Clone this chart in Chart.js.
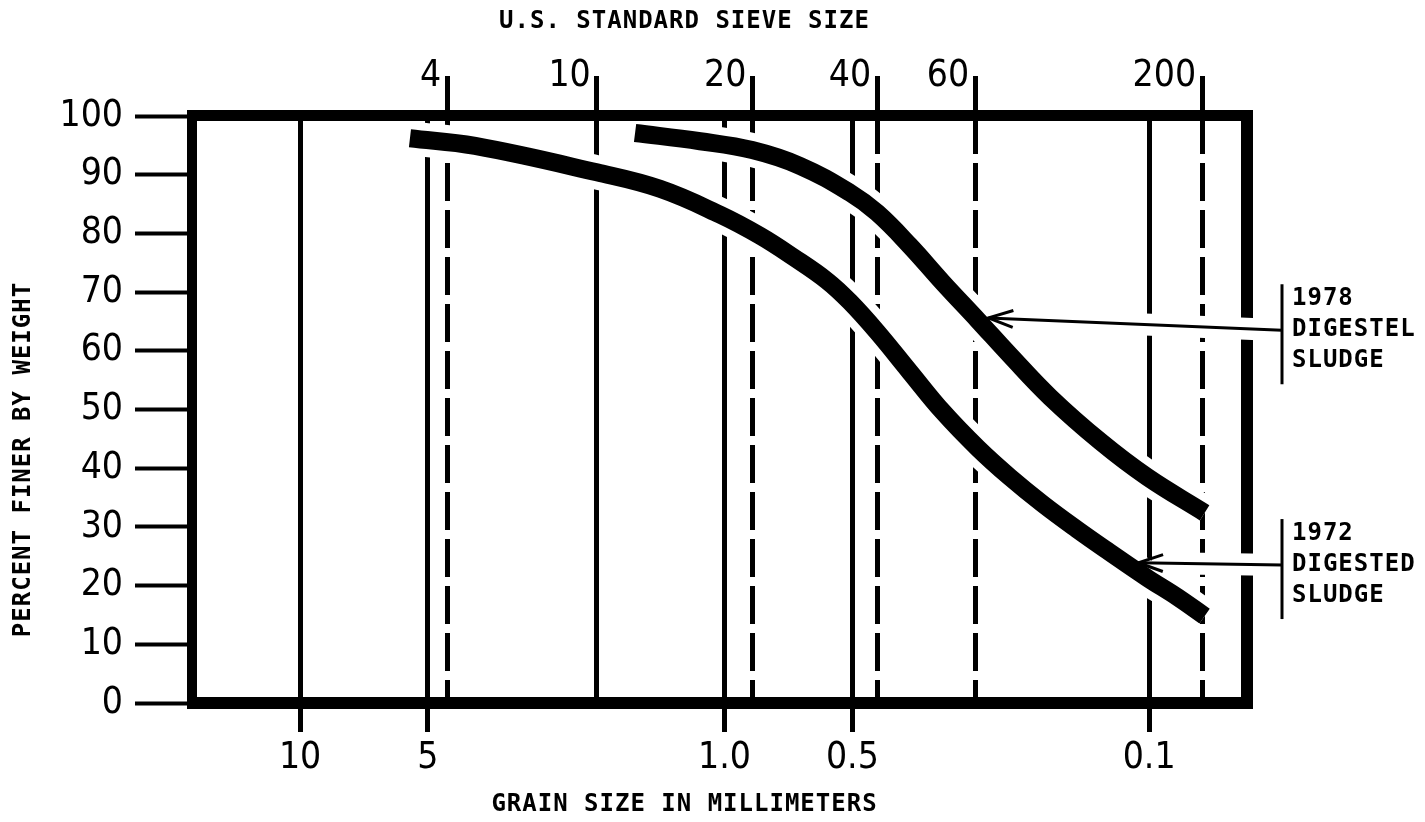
<!DOCTYPE html>
<html>
<head>
<meta charset="utf-8">
<script src="https://cdn.jsdelivr.net/npm/chart.js@4.4.1/dist/chart.umd.min.js"></script>
<style>
  html, body { margin: 0; padding: 0; background: #fff; }
  #wrap { width: 1425px; height: 822px; }
</style>
</head>
<body>
<div id="wrap"><canvas id="sieveChart" width="1425" height="822"></canvas></div>
<script>
// -------- data -------- //

// 1972 digested sludge: grain size (mm) / percent finer
const grainMm1972 = [5.51, 3.87, 2.0, 1.42, 1.025, 0.825, 0.69, 0.573, 0.506, 0.437, 0.366, 0.306, 0.253,
                     0.213, 0.178, 0.148, 0.124, 0.101, 0.086, 0.074];
const percent1972 = [96.2, 94.9, 90.4, 87.6, 83.2, 79.6, 76.0, 71.9, 68.3, 63.2, 56.4, 49.6, 43.4,
                     38.5, 33.9, 29.6, 25.7, 21.3, 18.1, 14.8];

// 1978 digested sludge
const grainMm1978 = [1.625, 1.142, 0.861, 0.664, 0.506, 0.437, 0.366, 0.306, 0.253, 0.213, 0.171,
                     0.130, 0.101, 0.074];
const percent1978 = [97.1, 95.7, 94.2, 91.5, 86.9, 83.5, 77.9, 71.6, 65.2, 59.3, 52.1,
                     44.5, 38.5, 32.4];

// bottom axis (grain size, mm)
const grainTicks = [10, 5, 1, 0.5, 0.1];
const grainTickLabels = ['10', '5', '1.0', '0.5', '0.1'];
const grainMin = 0.0588;
const grainMax = 17.97;

// top axis (U.S. standard sieve numbers and their openings as drawn)
const sieveNumbers = ['4', '10', '20', '40', '60', '200'];
const sieveMm = [4.5, 2.0, 0.86, 0.437, 0.257, 0.075];
const sieveDashed = [true, false, true, true, true, true];

// left axis
const percentTicks = [0, 10, 20, 30, 40, 50, 60, 70, 80, 90, 100];

// arrow notes: text, tip (mm, %), tail level (%)
const noteLines = [['1978', 'DIGESTEL', 'SLUDGE'], ['1972', 'DIGESTED', 'SLUDGE']];
const noteTipMm = [0.239, 0.106];
const noteTipPct = [65.6, 23.9];
const noteTailPct = [63.5, 23.5];

// -------- ------------- -------- //

const NUM_FONT = "'Liberation Sans Narrow', 'DejaVu Sans Condensed', sans-serif";
const MONO_FONT = "'DejaVu Sans Mono', 'Liberation Mono', monospace";

function toPoints(xs, ys) {
    return xs.map((x, i) => ({ x: x, y: ys[i] }));
}

function curve(label, xs, ys, color, width, order) {
    return {
        label: label,
        data: toPoints(xs, ys),
        borderColor: color,
        borderWidth: width,
        borderCapStyle: 'butt',
        borderJoinStyle: 'round',
        tension: 0.4,
        pointRadius: 0,
        fill: false,
        order: order
    };
}

function drawArrow(ctx, x1, y1, x2, y2) {
    const ang = Math.atan2(y2 - y1, x2 - x1);
    const len = Math.hypot(x2 - x1, y2 - y1);
    // white halo breaks the lines it crosses, stops short of the curve
    ctx.strokeStyle = '#fff';
    ctx.lineWidth = 22;
    ctx.lineCap = 'butt';
    ctx.beginPath();
    ctx.moveTo(x1, y1);
    ctx.lineTo(x1 + Math.cos(ang) * (len - 32), y1 + Math.sin(ang) * (len - 32));
    ctx.stroke();

    ctx.strokeStyle = '#000';
    ctx.lineWidth = 3;
    ctx.beginPath();
    ctx.moveTo(x1, y1);
    ctx.lineTo(x2, y2);
    ctx.stroke();
    const hl = 26, ha = 0.33;
    ctx.beginPath();
    ctx.moveTo(x2 - hl * Math.cos(ang - ha), y2 - hl * Math.sin(ang - ha));
    ctx.lineTo(x2, y2);
    ctx.lineTo(x2 - hl * Math.cos(ang + ha), y2 - hl * Math.sin(ang + ha));
    ctx.stroke();
}

const framePlugin = {
    id: 'frameAndNotes',
    afterDatasetsDraw(chart) {
        const { ctx, chartArea: a } = chart;
        const xs = chart.scales.x, ys = chart.scales.y;
        ctx.save();
        ctx.fillStyle = '#000';
        // heavy plot frame
        ctx.fillRect(a.left - 5, a.top - 6, a.right - a.left + 11, 11);
        ctx.fillRect(a.left - 5, a.bottom - 6, a.right - a.left + 11, 12);
        ctx.fillRect(a.left - 5, a.top - 6, 10, a.bottom - a.top + 12);
        ctx.fillRect(a.right - 6, a.top - 6, 12, a.bottom - a.top + 12);

        // arrows + bracketed notes on the right
        const bx = a.right + 35;
        for (let i = 0; i < noteLines.length; i++) {
            const tx = xs.getPixelForValue(noteTipMm[i]);
            const ty = ys.getPixelForValue(noteTipPct[i]);
            const ly = ys.getPixelForValue(noteTailPct[i]);
            drawArrow(ctx, bx, ly, tx, ty);
            ctx.strokeStyle = '#000';
            ctx.lineWidth = 3;
            ctx.beginPath();
            ctx.moveTo(bx, ly - 46);
            ctx.lineTo(bx, ly + 54);
            ctx.stroke();
            ctx.font = 'bold 24px ' + MONO_FONT;
            ctx.letterSpacing = '1px';
            ctx.textAlign = 'left';
            ctx.textBaseline = 'middle';
            noteLines[i].forEach((t, k) => ctx.fillText(t, bx + 10, ly + (k - 1) * 31));
        }
        ctx.restore();
    },
    afterDraw(chart) {
        const { ctx, chartArea: a } = chart;
        const cx = (a.left + a.right) / 2 - 35;
        ctx.save();
        ctx.fillStyle = '#000';
        ctx.font = 'bold 24px ' + MONO_FONT;
        ctx.letterSpacing = '1px';
        ctx.textAlign = 'center';
        ctx.textBaseline = 'middle';
        ctx.fillText('U.S. STANDARD SIEVE SIZE', cx, 22);
        ctx.fillText('GRAIN SIZE IN MILLIMETERS', cx, chart.height - 17);
        ctx.translate(24, (a.top + a.bottom) / 2 + 50);
        ctx.rotate(-Math.PI / 2);
        ctx.fillText('PERCENT FINER BY WEIGHT', 0, 0);
        ctx.restore();
    }
};

const tickFont = { family: NUM_FONT, size: 37, lineHeight: 1 };

new Chart(document.getElementById('sieveChart'), {
    type: 'line',
    data: {
        datasets: [
            curve('1978 digested sludge', grainMm1978, percent1978, '#000', 18, 0),
            curve('1972 digested sludge', grainMm1972, percent1972, '#000', 18, 0),
            curve('halo 1978', grainMm1978, percent1978, '#fff', 34, 1),
            curve('halo 1972', grainMm1972, percent1972, '#fff', 34, 1)
        ]
    },
    options: {
        responsive: false,
        animation: false,
        layout: { padding: { left: 0, right: 178, top: 0, bottom: 0 } },
        plugins: { legend: { display: false }, tooltip: { enabled: false } },
        scales: {
            x: {
                type: 'logarithmic',
                position: 'bottom',
                reverse: true,
                min: grainMin,
                max: grainMax,
                afterBuildTicks: (scale) => { scale.ticks = grainTicks.map(v => ({ value: v })); },
                afterFit: (scale) => { scale.height = 119; },
                ticks: {
                    autoSkip: false,
                    maxRotation: 0,
                    color: '#000',
                    font: tickFont,
                    padding: 8,
                    callback: (v, i) => grainTickLabels[i]
                },
                grid: { color: '#000', lineWidth: 5, tickLength: 29, tickWidth: 5, tickColor: '#000' },
                border: { display: false }
            },
            xTop: {
                type: 'logarithmic',
                position: 'top',
                reverse: true,
                min: grainMin,
                max: grainMax,
                afterBuildTicks: (scale) => { scale.ticks = sieveMm.map(v => ({ value: v })); },
                afterFit: (scale) => { scale.height = 116; },
                ticks: {
                    autoSkip: false,
                    maxRotation: 0,
                    align: 'end',
                    labelOffset: -6,
                    padding: -19,
                    color: '#000',
                    font: tickFont,
                    callback: (v, i) => sieveNumbers[i]
                },
                grid: { color: '#000', lineWidth: 5, tickLength: 40, tickWidth: 5, tickColor: '#000' },
                border: {
                    display: false,
                    dash: (ctx) => sieveDashed[ctx.index] ? [38, 9] : [],
                    dashOffset: 0
                }
            },
            y: {
                type: 'linear',
                min: 0,
                max: 100,
                afterBuildTicks: (scale) => { scale.ticks = percentTicks.map(v => ({ value: v })); },
                afterFit: (scale) => { scale.width = 192; },
                ticks: { color: '#000', font: tickFont, padding: 12 },
                grid: { drawOnChartArea: false, tickLength: 57, tickWidth: 4, tickColor: '#000' },
                border: { display: false }
            }
        }
    },
    plugins: [framePlugin]
});
</script>
</body>
</html>
